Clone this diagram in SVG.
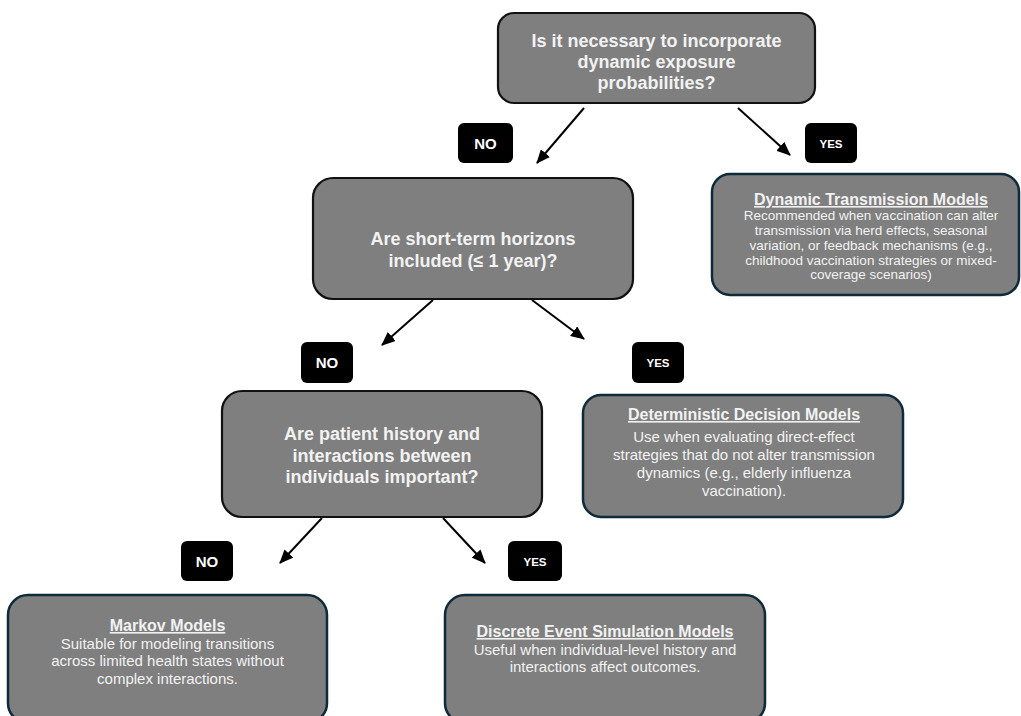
<svg xmlns="http://www.w3.org/2000/svg" width="1021" height="716" viewBox="0 0 1021 716">
<style>
.q{fill:#7f7f7f;stroke:#111;stroke-width:2.2}
.m{fill:#7f7f7f;stroke:#0f2a3a;stroke-width:2.5}
.lab{fill:#000}
.qt{font-family:"Liberation Sans",Arial,sans-serif;font-weight:bold;font-size:18px;fill:#f2f2f2;text-anchor:middle}
.tt{font-family:"Liberation Sans",Arial,sans-serif;font-weight:bold;font-size:16px;fill:#f2f2f2;text-anchor:middle;text-decoration:underline}
.bt{font-family:"Liberation Sans",Arial,sans-serif;font-size:15px;fill:#f2f2f2;text-anchor:middle}
.bs{font-family:"Liberation Sans",Arial,sans-serif;font-size:13.5px;fill:#f2f2f2;text-anchor:middle}
.no{font-family:"Liberation Sans",Arial,sans-serif;font-weight:bold;font-size:15px;fill:#fff;text-anchor:middle}
.yes{font-family:"Liberation Sans",Arial,sans-serif;font-weight:bold;font-size:11.5px;fill:#fff;text-anchor:middle}
.c{stroke:#000;stroke-width:2;fill:none;marker-end:url(#ah)}
</style>
<defs>
<marker id="ah" markerUnits="userSpaceOnUse" markerWidth="14" markerHeight="12" refX="13" refY="6" orient="auto">
<path d="M0,0 L14,6 L0,12 Z" fill="#000"/>
</marker>
</defs>
<rect width="1021" height="716" fill="#fff"/>

<g id="connectors">
<line class="c" x1="584" y1="108" x2="537" y2="163"/>
<line class="c" x1="738" y1="108" x2="790" y2="155"/>
<line class="c" x1="433" y1="300" x2="382" y2="345"/>
<line class="c" x1="532" y1="300" x2="584" y2="339"/>
<line class="c" x1="322" y1="518" x2="280" y2="563"/>
<line class="c" x1="443" y1="518" x2="485" y2="563"/>
</g>

<g id="label-no-1"><rect class="lab" x="458" y="123" width="55" height="40" rx="6"/><text class="no" x="485.5" y="148.5">NO</text></g>
<g id="label-yes-1"><rect class="lab" x="805" y="123" width="52" height="40" rx="6"/><text class="yes" x="831" y="147.5">YES</text></g>
<g id="label-no-2"><rect class="lab" x="301" y="342" width="52" height="41" rx="6"/><text class="no" x="327" y="368">NO</text></g>
<g id="label-yes-2"><rect class="lab" x="632" y="342" width="52" height="41" rx="6"/><text class="yes" x="658" y="367">YES</text></g>
<g id="label-no-3"><rect class="lab" x="181" y="541" width="52" height="40" rx="6"/><text class="no" x="207" y="566.5">NO</text></g>
<g id="label-yes-3"><rect class="lab" x="508" y="541" width="54" height="40" rx="6"/><text class="yes" x="535" y="565.5">YES</text></g>

<g id="q1">
<rect class="q" x="498" y="13" width="317" height="90" rx="16"/>
<text class="qt" x="656.5" y="47">Is it necessary to incorporate</text>
<text class="qt" x="656.5" y="68">dynamic exposure</text>
<text class="qt" x="656.5" y="89">probabilities?</text>
</g>

<g id="q2">
<rect class="q" x="313" y="178" width="320" height="121" rx="20"/>
<text class="qt" x="473" y="245">Are short-term horizons</text>
<text class="qt" x="473" y="267">included (≤ 1 year)?</text>
</g>

<g id="q3">
<rect class="q" x="222" y="391" width="320" height="126" rx="20"/>
<text class="qt" x="382" y="440">Are patient history and</text>
<text class="qt" x="382" y="462">interactions between</text>
<text class="qt" x="382" y="483">individuals important?</text>
</g>

<g id="dynamic-transmission">
<rect class="m" x="712" y="174" width="307" height="121" rx="18"/>
<text class="tt" x="871" y="205">Dynamic Transmission Models</text>
<text class="bs" x="871" y="220">Recommended when vaccination can alter</text>
<text class="bs" x="871" y="235">transmission via herd effects, seasonal</text>
<text class="bs" x="871" y="250">variation, or feedback mechanisms (e.g.,</text>
<text class="bs" x="871" y="265">childhood vaccination strategies or mixed-</text>
<text class="bs" x="871" y="279">coverage scenarios)</text>
</g>

<g id="deterministic">
<rect class="m" x="583" y="395" width="320" height="122" rx="18"/>
<text class="tt" x="744" y="420">Deterministic Decision Models</text>
<text class="bt" x="744" y="442">Use when evaluating direct-effect</text>
<text class="bt" x="744" y="460">strategies that do not alter transmission</text>
<text class="bt" x="744" y="478">dynamics (e.g., elderly influenza</text>
<text class="bt" x="744" y="496">vaccination).</text>
</g>

<g id="markov">
<rect class="m" x="8" y="595" width="319" height="128" rx="20"/>
<text class="tt" x="167.5" y="631">Markov Models</text>
<text class="bt" x="167.5" y="649">Suitable for modeling transitions</text>
<text class="bt" x="167.5" y="666">across limited health states without</text>
<text class="bt" x="167.5" y="684">complex interactions.</text>
</g>

<g id="des">
<rect class="m" x="445" y="595" width="320" height="128" rx="20"/>
<text class="tt" x="605" y="637">Discrete Event Simulation Models</text>
<text class="bt" x="605" y="655">Useful when individual-level history and</text>
<text class="bt" x="605" y="672">interactions affect outcomes.</text>
</g>
</svg>
